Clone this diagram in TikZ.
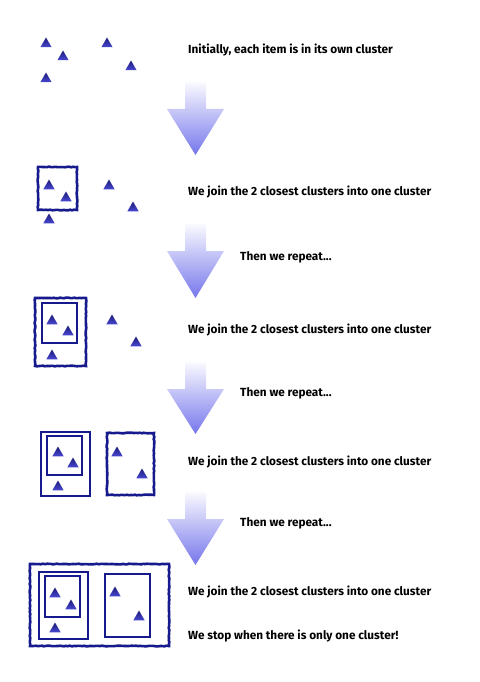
\documentclass[tikz,border=0pt]{standalone}
\usepackage{fontspec}
\setmainfont{Fira Sans}
\usetikzlibrary{shapes.geometric,decorations.pathmorphing}
\definecolor{clusterblue}{RGB}{22,26,140}
\definecolor{itemtop}{RGB}{30,30,120}
\definecolor{itembottom}{RGB}{70,70,210}
\definecolor{arrowtop}{RGB}{250,250,255}
\definecolor{arrowtip}{RGB}{118,118,236}
\tikzset{
  item/.style={regular polygon, regular polygon sides=3, minimum size=13pt,
    inner sep=0pt, top color=itemtop, bottom color=itembottom, draw=none},
  newcluster/.style={draw=clusterblue, line width=2.6pt,
    decorate, decoration={random steps, segment length=2pt, amplitude=0.35pt}},
  oldcluster/.style={draw=clusterblue, line width=1.3pt},
  caption/.style={anchor=west, inner sep=0pt, font=\fontsize{11.8}{14}\selectfont\bfseries}
}
\begin{document}
\begin{tikzpicture}[x=1pt,y=-1pt]
\useasboundingbox (0,0) rectangle (479,682);
% step 1
\foreach \n/\x/\y in {a/46/44, b/63/57, c/107/44, d/131/67, e/46/79}
  \node[item] (r1\n) at (\x,\y) {};
\node[caption] (initial) at (188,50) {Initially, each item is in its own cluster};
% step 2
\foreach \n/\x/\y in {a/49/186, b/66/198, c/109/186, d/133/208, e/49/220}
  \node[item] (r2\n) at (\x,\y) {};
\draw[newcluster] (38,167) rectangle (77,210);
\node[caption] (join1) at (188,192) {We join the 2 closest clusters into one cluster};
% step 3
\foreach \n/\x/\y in {a/52/321, b/68/332, c/112/321, d/136/343, e/52/356}
  \node[item] (r3\n) at (\x,\y) {};
\draw[oldcluster] (42,303) rectangle (77,343);
\draw[newcluster] (35,298) rectangle (86,366);
\node[caption] (repeat1) at (240,257) {Then we repeat...};
\node[caption] (join2) at (188,330) {We join the 2 closest clusters into one cluster};
% step 4
\foreach \n/\x/\y in {a/58/453, b/73/464, c/58/487, d/117/453, e/142/475}
  \node[item] (r4\n) at (\x,\y) {};
\draw[oldcluster] (47,436) rectangle (82,475);
\draw[oldcluster] (41,432) rectangle (90,496);
\draw[newcluster] (107,433) rectangle (154,495);
\node[caption] (repeat2) at (240,393) {Then we repeat...};
\node[caption] (join3) at (188,462) {We join the 2 closest clusters into one cluster};
% step 5
\foreach \n/\x/\y in {a/55/594, b/71/606, c/55/629, d/115/593, e/139/617}
  \node[item] (r5\n) at (\x,\y) {};
\draw[oldcluster] (45,576) rectangle (80,617);
\draw[oldcluster] (39,572) rectangle (88,639);
\draw[oldcluster] (105,574) rectangle (150,637);
\draw[newcluster] (30,564) rectangle (169,646);
\node[caption] (repeat3) at (240,523) {Then we repeat...};
\node[caption] (join4) at (188,592) {We join the 2 closest clusters into one cluster};
\node[caption] (stop) at (188,636) {We stop when there is only one cluster!};
% arrows between steps
\foreach \t/\b in {82/155, 224/298, 362/434, 492/565}
  \shade[top color=arrowtop, bottom color=arrowtip]
    (185,\t) -- (206,\t) -- (206,\t+27) -- (224,\t+27) -- (195.5,\b)
    -- (167,\t+27) -- (185,\t+27) -- cycle;
\end{tikzpicture}
\end{document}
